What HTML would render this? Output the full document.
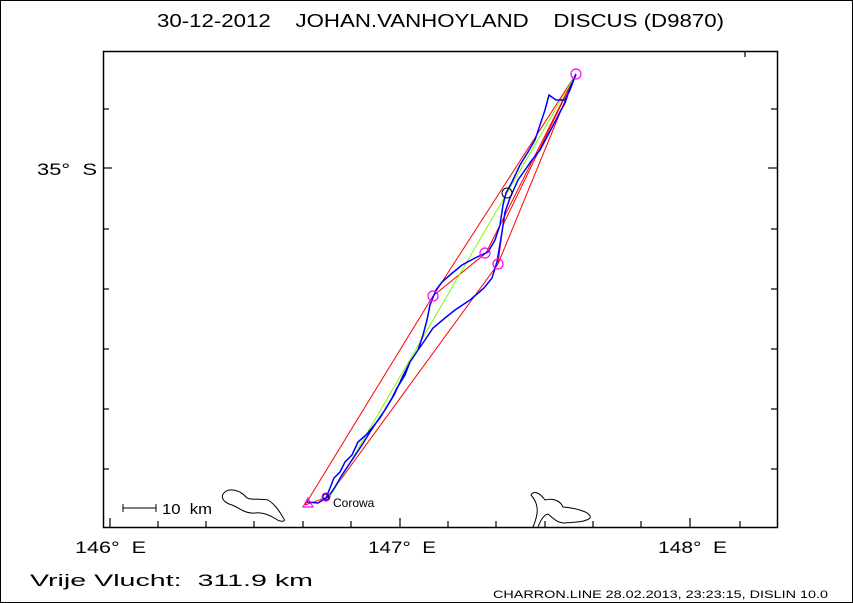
<!DOCTYPE html>
<html><head><meta charset="utf-8"><style>
html,body{margin:0;padding:0;background:#fff}
svg{display:block}
text{font-family:"Liberation Sans",sans-serif;fill:#000;white-space:pre}
</style></head><body>
<svg width="853" height="603" viewBox="0 0 853 603" xmlns="http://www.w3.org/2000/svg" xml:space="preserve">
<rect x="0.5" y="0.5" width="852" height="602" fill="#fff" stroke="#000"/>
<text x="157" y="27" font-size="18" textLength="567" lengthAdjust="spacingAndGlyphs">30-12-2012    JOHAN.VANHOYLAND    DISCUS (D9870)</text>
<rect x="103.5" y="51.5" width="674" height="476" fill="none" stroke="#000" stroke-width="1.5"/>
<g stroke="#000" stroke-width="1.2">
<line x1="110" y1="527" x2="110" y2="518"/><line x1="158" y1="527" x2="158" y2="521"/><line x1="206" y1="527" x2="206" y2="521"/><line x1="254" y1="527" x2="254" y2="521"/><line x1="303" y1="527" x2="303" y2="521"/><line x1="351" y1="527" x2="351" y2="521"/><line x1="400" y1="527" x2="400" y2="518"/><line x1="448" y1="527" x2="448" y2="521"/><line x1="496" y1="527" x2="496" y2="521"/><line x1="545" y1="527" x2="545" y2="521"/><line x1="593" y1="527" x2="593" y2="521"/><line x1="641" y1="527" x2="641" y2="521"/><line x1="690" y1="527" x2="690" y2="518"/><line x1="740" y1="527" x2="740" y2="521"/>
<line x1="745" y1="52" x2="745" y2="57"/>
<line x1="103" y1="109" x2="109" y2="109"/><line x1="103" y1="168" x2="112" y2="168"/><line x1="103" y1="229" x2="109" y2="229"/><line x1="103" y1="289" x2="109" y2="289"/><line x1="103" y1="349" x2="109" y2="349"/><line x1="103" y1="409" x2="109" y2="409"/><line x1="103" y1="469" x2="109" y2="469"/>
<line x1="777" y1="109" x2="771" y2="109"/><line x1="777" y1="168" x2="768" y2="168"/><line x1="777" y1="229" x2="771" y2="229"/><line x1="777" y1="289" x2="771" y2="289"/><line x1="777" y1="349" x2="771" y2="349"/><line x1="777" y1="409" x2="771" y2="409"/><line x1="777" y1="469" x2="771" y2="469"/>
</g>
<text x="37" y="175" font-size="17" textLength="60" lengthAdjust="spacingAndGlyphs">35°  S</text>
<text x="75" y="553" font-size="17" textLength="71" lengthAdjust="spacingAndGlyphs">146°  E</text>
<text x="368" y="553" font-size="17" textLength="68" lengthAdjust="spacingAndGlyphs">147°  E</text>
<text x="658" y="553" font-size="17" textLength="69" lengthAdjust="spacingAndGlyphs">148°  E</text>
<g stroke="#000"><line x1="123" y1="508" x2="156" y2="508"/><line x1="123" y1="504" x2="123" y2="512"/><line x1="156" y1="504" x2="156" y2="512"/></g>
<text x="162" y="514" font-size="15" textLength="50" lengthAdjust="spacingAndGlyphs">10  km</text>
<path d="M225,492 C230,488 240,490 246,497 C250,501 260,498 268,500 C275,504 280,512 284,519 C286,522 280,522 276,519 C270,515 262,512 255,513 C245,514 240,508 232,505 C222,502 220,496 225,492 Z" fill="none" stroke="#000"/>
<path d="M533,527 C538,515 540,505 531,495 C534,490 540,493 545,500 C552,498 560,500 563,507 C575,508 592,512 590,518 C586,522 575,522 565,523 C557,523 553,518 548,514 C543,515 540,522 538,527" fill="none" stroke="#000"/>
<polyline points="305,505 433,296 486,253 576,74 498,264 328,497 305,505" fill="none" stroke="#f00" stroke-width="1"/>
<polyline points="433,296 576,74" fill="none" stroke="#f00" stroke-width="1"/>
<polyline points="498,264 503,225 576,74" fill="none" stroke="#f00" stroke-width="1"/>
<polyline points="330,497 507,193 576,74" fill="none" stroke="#7f0" stroke-width="1"/>
<polyline points="307,502 318,503 326,498 330,488 334,478 340,472 345,462 352,455 358,442 366,435 372,428 380,418 386,408 392,398 397,388 405,375 410,362 418,350 423,335 427,320 430,305 436,290 442,282 450,275 462,265 475,258 488,252 495,240 500,225 503,205 506,193 512,182 520,165 528,152 535,140 540,125 545,110 549,95 556,100 565,100 570,90 576,74 570,88 565,103 560,112 556,120 548,135 540,150 532,160 525,170 518,180 510,198 505,212 502,232 499,250 497,262 492,278 484,288 470,300 455,310 445,318 433,328 425,340 418,350 410,362 402,378 394,395 385,410 378,420 370,432 362,445 352,460 342,475 335,487 328,497 318,503 307,502" fill="none" stroke="#00f" stroke-width="1.5"/>
<g fill="none" stroke="#f0f" stroke-width="1.2">
<circle cx="576" cy="74" r="5"/><circle cx="485" cy="253" r="5"/><circle cx="498" cy="264" r="5"/><circle cx="433" cy="296" r="5"/>
<polygon points="303,507 313,507 308,498"/>
<circle cx="326" cy="497" r="4"/>
</g>
<circle cx="507" cy="193" r="5" fill="none" stroke="#000"/>
<circle cx="326" cy="497" r="3" fill="none" stroke="#000"/>
<text x="333" y="507" font-size="12">Corowa</text>
<text x="30" y="586" font-size="17" textLength="283" lengthAdjust="spacingAndGlyphs">Vrije Vlucht:  311.9 km</text>
<text x="493" y="598" font-size="11" textLength="335" lengthAdjust="spacingAndGlyphs">CHARRON.LINE 28.02.2013, 23:23:15, DISLIN 10.0</text>
</svg>
</body></html>
